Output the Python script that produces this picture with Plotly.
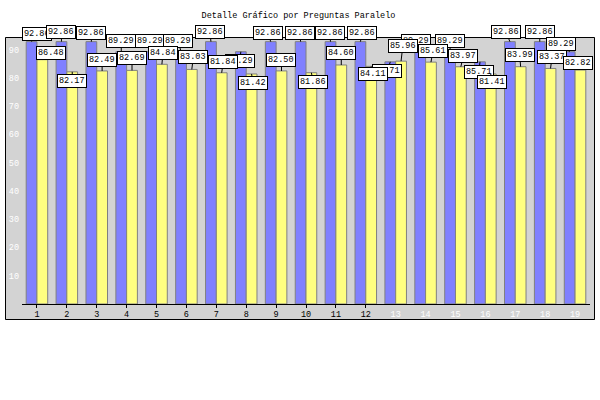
import plotly.graph_objects as go

# ---- data ----
categories = [str(i) for i in range(1, 20)]
serie_a = [92.86, 92.86, 92.86, 89.29, 89.29, 89.29, 92.86, 89.29, 92.86, 92.86,
           92.86, 92.86, 85.71, 89.29, 89.29, 85.71, 92.86, 92.86, 89.29]
serie_b = [86.48, 82.17, 82.49, 82.69, 84.84, 83.03, 81.84, 81.42, 82.50, 81.86,
           84.60, 84.11, 85.96, 85.61, 83.97, 81.41, 83.99, 83.37, 82.82]
title_text = "Detalle Gráfico por Preguntas Paralelo"
y_ticks = [10, 20, 30, 40, 50, 60, 70, 80, 90]
dark_x_labels = categories[:12]       # the remaining labels are drawn in white

# ---- label placement (pixel offsets of value boxes from bar tops) ----
off_a = [(5, -8), (0, -10), (0, -9), (0, -11), (-1, -11), (-3, -11), (-1, -10), (-1, 9.5),
         (-3, -9), (-1, -9), (-1, -9), (2, -9), (-3, 9), (-4, -11), (0, -11), (-1, 10),
         (-4, -10), (0, -10), (-9, -8)]
off_b = [(9, -7), (0, 9), (0, -11), (0, -12), (1, -11), (1.5, -12), (1.5, -11), (1.5, 9.5),
         (0, -11), (2, 9.5), (0, -11.5), (2, 8), (1.7, -15), (2, -11), (2.5, -11), (1, 8.5),
         (-1, -11.5), (1.5, -11.5), (-2, -7)]

W, H = 600, 400
ML, MR, MT, MB = 22, 10, 37, 96
PW, PH = W - ML - MR, H - MT - MB
BARGAP = 0.28
bar_frac = (1 - BARGAP) / 2   # width of one bar in category units

FONT = "Liberation Mono"

fig = go.Figure()
fig.add_trace(go.Bar(x=categories, y=serie_a, marker=dict(color="#8080FF",
                     line=dict(color="#808080", width=1)), name="A"))
fig.add_trace(go.Bar(x=categories, y=serie_b, marker=dict(color="#FFFF80",
                     line=dict(color="#808080", width=1)), name="B"))
# empty helper trace so the tick-only overlay axis is drawn
fig.add_trace(go.Scatter(x=[], y=[], xaxis="x2", yaxis="y", mode="lines",
                         hoverinfo="skip", showlegend=False))

ann = []
for vals, offs, sh in ((serie_a, off_a, -bar_frac / 2), (serie_b, off_b, bar_frac / 2)):
    for i, (v, (dx, dy)) in enumerate(zip(vals, offs)):
        ann.append(dict(x=i + sh, y=v, xref="x", yref="y", text=f"{v:.2f}",
                        showarrow=True, arrowhead=0, arrowwidth=1, arrowcolor="black",
                        ax=dx, ay=dy, standoff=0, startstandoff=0,
                        bgcolor="white", bordercolor="black", borderwidth=1, borderpad=1,
                        font=dict(family=FONT, size=8.5, color="black")))

ticktext = [c if c in dark_x_labels else f"<span style='color:white'>{c}</span>"
            for c in categories]

def px_x(p):
    return (p - ML) / PW

def px_y(p):
    return (H - MB - p) / PH

fig.update_layout(
    width=W, height=H, margin=dict(l=ML, r=MR, t=MT, b=MB),
    paper_bgcolor="white", plot_bgcolor="#D3D3D3",
    barmode="group", bargap=BARGAP, bargroupgap=0, showlegend=False,
    title=dict(text=title_text, x=(298.5) / W, xref="container", xanchor="center",
               y=1 - 15 / H, yanchor="middle",
               font=dict(family=FONT, size=8.5, color="black")),
    xaxis=dict(type="category", tickmode="array", tickvals=categories, ticktext=ticktext,
               showline=True, linecolor="black", linewidth=1,
               ticks="", ticklabelstandoff=2,
               showgrid=False, zeroline=False,
               tickfont=dict(family=FONT, size=8.5, color="black"),
               range=[-0.5, len(categories) - 0.5]),
    xaxis2=dict(type="category", overlaying="x", side="bottom", anchor="y",
                categoryarray=categories, categoryorder="array",
                tickmode="array", tickvals=dark_x_labels, ticktext=dark_x_labels,
                showticklabels=False,
                ticks="outside", ticklen=3, tickcolor="black", tickwidth=1,
                showgrid=False, zeroline=False, showline=False,
                range=[-0.5, len(categories) - 0.5]),
    yaxis=dict(range=[0, 94.5], tickvals=y_ticks, showgrid=False, zeroline=False,
               showline=False, ticks="", ticklabelstandoff=2,
               tickfont=dict(family=FONT, size=8.5, color="white")),
    annotations=ann,
    shapes=[
        dict(type="rect", xref="paper", yref="paper", layer="below",
             x0=px_x(5), x1=px_x(595), y0=px_y(320), y1=px_y(37),
             fillcolor="#D3D3D3", line=dict(width=0)),
        dict(type="rect", xref="paper", yref="paper", layer="above",
             x0=px_x(5.5), x1=px_x(594.5), y0=px_y(319.5), y1=px_y(37.5),
             fillcolor="rgba(0,0,0,0)", line=dict(color="black", width=1)),
    ],
)

fig.write_html("out.html")
